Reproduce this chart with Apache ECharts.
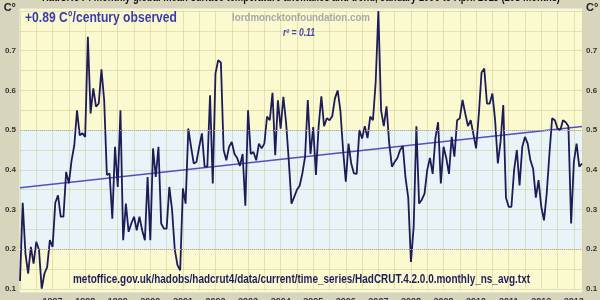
<!DOCTYPE html>
<html>
<head>
<meta charset="utf-8">
<script src="https://cdn.jsdelivr.net/npm/echarts@6/dist/echarts.min.js"></script>
<style>
  html, body { margin: 0; padding: 0; background: #d8d5bd; }
  #chart { width: 600px; height: 300px; }
</style>
</head>
<body>
<div id="chart"></div>
<script>
// HadCRUT4 monthly anomalies, Jan 1996 .. Apr 2013 (208 months)
const startYear = 1996;
const anomalies = [
  0.120, 0.317, 0.190, 0.139, 0.206, 0.164, 0.219, 0.198, 0.101, 0.139, 0.155, 0.223,
  0.206, 0.317, 0.336, 0.282, 0.282, 0.395, 0.366, 0.424, 0.462, 0.550, 0.487, 0.492,
  0.483, 0.735, 0.542, 0.605, 0.559, 0.567, 0.653, 0.576, 0.387, 0.391, 0.277, 0.458,
  0.357, 0.550, 0.223, 0.315, 0.244, 0.265, 0.282, 0.248, 0.282, 0.248, 0.223, 0.382,
  0.223, 0.454, 0.382, 0.458, 0.265, 0.252, 0.252, 0.357, 0.300, 0.200, 0.160, 0.147,
  0.353, 0.315, 0.504, 0.458, 0.416, 0.420, 0.458, 0.492, 0.408, 0.408, 0.588, 0.366,
  0.643, 0.676, 0.670, 0.450, 0.424, 0.458, 0.470, 0.440, 0.430, 0.410, 0.440, 0.310,
  0.550, 0.440, 0.445, 0.424, 0.466, 0.454, 0.466, 0.534, 0.525, 0.594, 0.437, 0.575,
  0.504, 0.584, 0.520, 0.424, 0.315, 0.332, 0.350, 0.360, 0.391, 0.433, 0.576, 0.440,
  0.508, 0.387, 0.510, 0.585, 0.510, 0.530, 0.525, 0.535, 0.580, 0.600, 0.550, 0.450,
  0.370, 0.466, 0.416, 0.391, 0.390, 0.500, 0.479, 0.510, 0.480, 0.534, 0.525, 0.620,
  0.800, 0.550, 0.510, 0.560, 0.466, 0.408, 0.420, 0.430, 0.450, 0.460, 0.380, 0.330,
  0.168, 0.256, 0.510, 0.315, 0.325, 0.340, 0.400, 0.430, 0.390, 0.480, 0.520, 0.366,
  0.458, 0.430, 0.390, 0.483, 0.433, 0.525, 0.530, 0.576, 0.542, 0.510, 0.525, 0.490,
  0.454, 0.540, 0.645, 0.655, 0.567, 0.567, 0.592, 0.525, 0.416, 0.471, 0.563, 0.330,
  0.307, 0.307, 0.400, 0.450, 0.361, 0.458, 0.483, 0.466, 0.424, 0.403, 0.330, 0.374,
  0.307, 0.273, 0.340, 0.440, 0.530, 0.525, 0.504, 0.500, 0.525, 0.520, 0.510, 0.265,
  0.420, 0.466, 0.408, 0.416
];
const yearLabels = ['1997', '1998', '1999', '2000', '2001', '2002', '2003', '2004', '2005',
  '2006', '2007', '2008', '2009', '2010', '2011', '2012', '2013'];
const trendStart = 0.355;
const trendEnd = 0.509;
const bandLow = 0.2;
const bandHigh = 0.5;

const titleText = 'HadCRUT4 monthly global mean surface temperature anomalies and trend, January 1996 to April 2013 (208 months)';
const headline = '+0.89 C°/century observed';
const siteText = 'lordmoncktonfoundation.com';
const r2Text = 'r² = 0.11';
const sourceText = 'metoffice.gov.uk/hadobs/hadcrut4/data/current/time_series/HadCRUT.4.2.0.0.monthly_ns_avg.txt';

const FONT = '"Liberation Sans", Arial, sans-serif';

// the picture is squeezed sideways, so stretch each text to the width it has there
function squeeze(text, font, width) {
  const ctx = document.createElement('canvas').getContext('2d');
  ctx.font = font;
  return width / ctx.measureText(text).width;
}

function textEl(text, font, fill, x, y, width, align) {
  return {
    type: 'text',
    x: x,
    y: y,
    scaleX: squeeze(text, font, width),
    z: 10,
    style: { text: text, font: font, fill: fill, align: align, verticalAlign: 'middle' }
  };
}

const months = anomalies.map((v, i) => [i, v]);

const gridColor = 'rgba(190,180,110,0.35)';
const yellow = '#fbf9d0';
const blue = '#e8f4f7';
// one colour per 0.05 band from 0.1 to 0.8
const bandColors = [];
for (let v = 0.1; v < 0.799; v += 0.05) {
  bandColors.push(v >= bandLow - 0.001 && v < bandHigh - 0.001 ? blue : yellow);
}

function yLabel(v) {
  const r = Math.round(v * 100);
  if (r === 80) return '{c|C°}';
  if (r % 10 === 0) return (r / 100).toFixed(1);
  return '';
}

const yAxisBase = {
  type: 'value',
  min: 0.1,
  max: 0.8,
  interval: 0.05,
  axisLine: { show: false },
  axisTick: { show: false },
  axisLabel: {
    formatter: yLabel,
    margin: 4,
    fontFamily: FONT,
    fontSize: 8,
    fontWeight: 'bold',
    color: '#333',
    rich: { c: { fontFamily: FONT, fontSize: 11, fontWeight: 'bold', color: '#222', padding: [0, 0, 6, 0] } }
  }
};

const chart = echarts.init(document.getElementById('chart'));
chart.setOption({
  backgroundColor: '#d8d5bd',
  animation: false,
  grid: { left: 20, right: 18, top: 11, bottom: 11, outerBoundsMode: 'none', containLabel: false },
  graphic: [
    {
      type: 'rect',
      z: -1,
      shape: { x: 20, y: 9, width: 562, height: 283 },
      style: { fill: yellow, stroke: '#f4f3e6', lineWidth: 1 }
    },
    textEl(titleText, 'bold 13px ' + FONT, '#111', 301, -3, 518, 'center'),
    textEl(headline, 'bold 15px ' + FONT, '#3c3cae', 25, 18, 152, 'left'),
    textEl(siteText, 'bold 11px ' + FONT, '#a8a8a8', 301, 18, 138, 'center'),
    textEl(r2Text, 'italic bold 10px ' + FONT, '#4646a6', 299, 33, 32, 'center'),
    textEl(sourceText, 'bold 13px ' + FONT, '#1e1e5a', 73, 279, 457, 'left')
  ],
  xAxis: {
    type: 'value',
    min: 0,
    max: anomalies.length - 1,
    interval: 6,
    axisLine: { show: false },
    axisTick: { show: false },
    splitLine: { show: true, lineStyle: { color: gridColor, width: 1 } },
    axisLabel: {
      margin: 8,
      fontFamily: FONT,
      fontSize: 9,
      fontWeight: 'bold',
      color: '#333',
      showMinLabel: false,
      showMaxLabel: false,
      formatter: (v) => (v > 0 && v % 12 === 0 ? yearLabels[v / 12 - 1] || '' : '')
    }
  },
  yAxis: [
    Object.assign({}, yAxisBase, {
      position: 'left',
      splitLine: { show: true, lineStyle: { color: gridColor, width: 1 } },
      splitArea: { show: true, areaStyle: { color: bandColors } }
    }),
    Object.assign({}, yAxisBase, {
      position: 'right',
      splitLine: { show: false },
      splitArea: { show: false }
    })
  ],
  series: [
    {
      name: 'trend',
      type: 'line',
      data: [[0, trendStart], [anomalies.length - 1, trendEnd]],
      symbol: 'none',
      lineStyle: { color: '#5050c0', width: 1.4 },
      z: 3,
      markLine: {
        silent: true,
        symbol: 'none',
        label: { show: false },
        lineStyle: { color: '#a9a9a9', type: 'dotted', width: 1 },
        data: [{ yAxis: bandLow }, { yAxis: bandHigh }]
      }
    },
    {
      name: 'HadCRUT4',
      type: 'line',
      data: months,
      symbol: 'none',
      lineStyle: { color: '#1c1c58', width: 1.8 },
      z: 4
    }
  ]
});
</script>
</body>
</html>
